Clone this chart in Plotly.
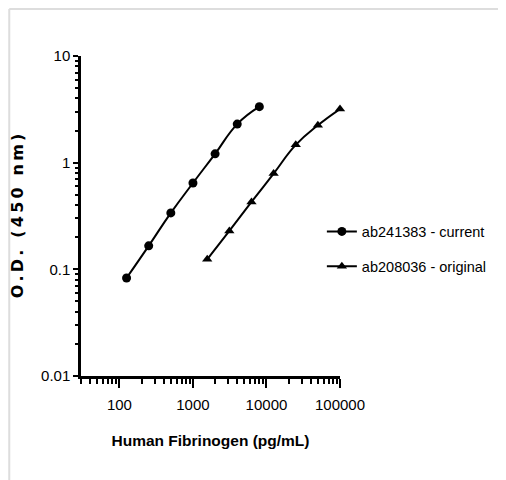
import plotly.graph_objects as go

conc_current = [125, 250, 500, 1000, 2000, 4000, 8000]
od_current = [0.083, 0.166, 0.338, 0.645, 1.21, 2.3, 3.35]
conc_original = [1562.5, 3125, 6250, 12500, 25000, 50000, 100000]
od_original = [0.124, 0.229, 0.428, 0.79, 1.47, 2.24, 3.18]

x_major = [100, 1000, 10000, 100000]
x_major_text = ["100", "1000", "10000", "100000"]
y_major = [0.01, 0.1, 1, 10]
y_major_text = ["0.01", "0.1", "1", "10"]

x_minor = [m * 10 ** e for e in range(1, 5) for m in range(2, 10) if m * 10 ** e >= 30]
y_minor = [m * 10.0 ** e for e in range(-2, 1) for m in range(2, 10)]

fig = go.Figure()
fig.add_trace(go.Scatter(
    x=conc_current, y=od_current, mode="lines+markers", name="ab241383 - current",
    legendgroup="a", cliponaxis=False,
    line=dict(color="black", width=2, shape="spline", smoothing=1.3),
    marker=dict(symbol="circle", size=9, color="black"),
))
fig.add_trace(go.Scatter(
    x=conc_original, y=od_original, mode="lines+markers", name="ab208036 - original",
    legendgroup="b", cliponaxis=False,
    line=dict(color="black", width=2, shape="spline", smoothing=1.3),
    marker=dict(symbol="triangle-up", size=9, color="black"),
))

sans = "Liberation Sans, Arial, sans-serif"
axis_font = dict(family=sans, size=15, color="black")
ts = "\u2009"
ytitle = ts.join("O.D. (450 nm)")

fig.update_layout(
    width=506, height=480,
    margin=dict(l=73, r=174, t=48, b=112),
    paper_bgcolor="white", plot_bgcolor="white",
    showlegend=True,
    legend=dict(x=0.93, xanchor="left", y=0.397, yanchor="middle",
                font=dict(family=sans, size=14.5, color="black"),
                tracegroupgap=13, itemwidth=30, bgcolor="rgba(0,0,0,0)"),
    xaxis=dict(
        type="log", range=[1.477, 5.0], automargin=False,
        showgrid=False, zeroline=False,
        showline=True, linecolor="black", linewidth=2.5,
        ticks="outside", ticklen=9, tickwidth=1.5, tickcolor="black",
        ticklabelstandoff=4,
        tickvals=x_major, ticktext=x_major_text, tickfont=axis_font,
        minor=dict(tickvals=x_minor, ticks="outside", ticklen=5, tickwidth=1.5, tickcolor="black", showgrid=False),
        title=dict(text="<b>Human Fibrinogen (pg/mL)</b>",
                   font=dict(family=sans, size=15.5, color="black"), standoff=24),
    ),
    yaxis=dict(
        type="log", range=[-2, 1], automargin=False,
        showgrid=False, zeroline=False,
        showline=True, linecolor="black", linewidth=2.5,
        ticks="outside", ticklen=5, tickwidth=1.5, tickcolor="black",
        tickvals=y_major, ticktext=y_major_text, tickfont=axis_font,
        minor=dict(tickvals=y_minor, ticks="outside", ticklen=3, tickwidth=1.5, tickcolor="black", showgrid=False),
        title=dict(text="<b>" + ytitle + "</b>",
                   font=dict(family="DejaVu Sans, sans-serif", size=16, color="black"), standoff=14),
    ),
    shapes=[
        dict(type="line", xref="paper", yref="paper", x0=-0.277, x1=2.0, y0=1.147, y1=1.147,
             line=dict(color="#dddddd", width=2)),
        dict(type="line", xref="paper", yref="paper", x0=-0.277, x1=-0.277, y0=1.147, y1=-0.33,
             line=dict(color="#dddddd", width=2)),
    ],
)

fig.write_html("out.html")
